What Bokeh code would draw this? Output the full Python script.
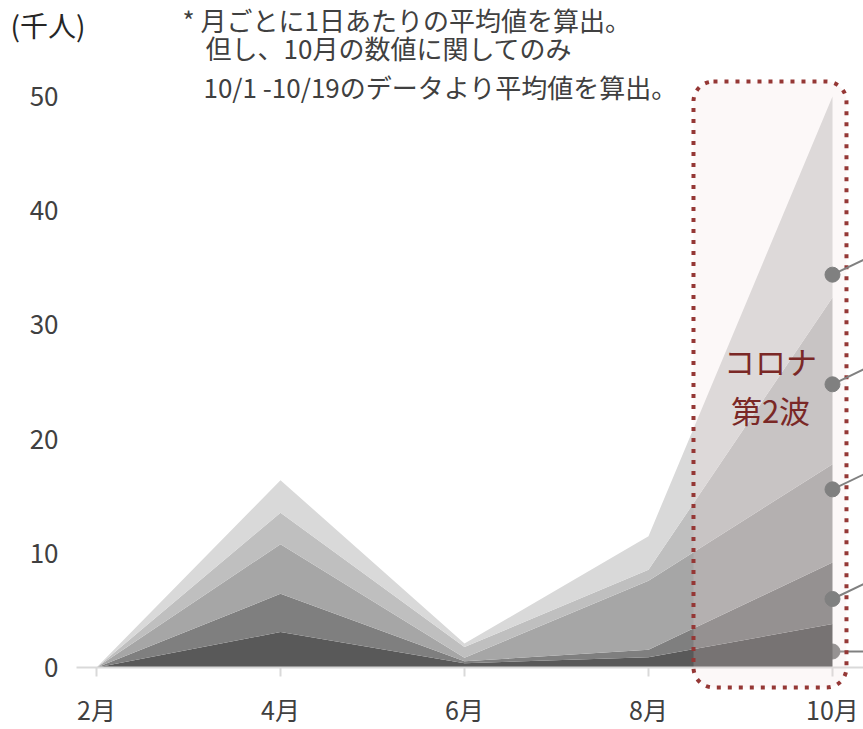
from bokeh.plotting import figure
from bokeh.models import ColumnDataSource, FixedTicker, BoxAnnotation, Label
from bokeh.embed import file_html
from bokeh.resources import INLINE

# ---- data ----
months = [2, 4, 6, 8, 10]
month_labels = ["2月", "4月", "6月", "8月", "10月"]
layer1 = [0, 3.1, 0.38, 0.9, 3.8]
layer2 = [0, 3.35, 0.17, 0.65, 5.4]
layer3 = [0, 4.35, 0.3, 6.05, 8.6]
layer4 = [0, 2.75, 0.95, 0.95, 14.6]
layer5 = [0, 2.85, 0.3, 2.95, 17.6]
y_ticks = [0, 10, 20, 30, 40, 50]
marker_month = 10
marker_y = [34.4, 24.8, 15.6, 6.0]
leader_end_y = [35.7, 26.1, 16.9, 7.3]
bottom_marker_y = 1.4

colors = ["#595959", "#7f7f7f", "#a6a6a6", "#bfbfbf", "#d9d9d9"]
FONT = "Noto Sans CJK JP"

X0, X1 = 0.9565, 10.337
Y0, Y1 = -5.43, 58.41
AXIS_X = 1.783   # where the value axis sits

p = figure(width=863, height=729, x_range=(X0, X1), y_range=(Y0, Y1),
           output_backend="svg", toolbar_location=None,
           min_border=0, min_border_left=0, min_border_right=0,
           min_border_top=0, min_border_bottom=0, outline_line_color=None,
           background_fill_color="white", border_fill_color="white")
p.grid.visible = False

src = ColumnDataSource(dict(month=months, l1=layer1, l2=layer2, l3=layer3,
                            l4=layer4, l5=layer5))

# bottom marker sits partly behind the areas
p.scatter(x=[marker_month], y=[bottom_marker_y], size=15, color="#808080")
p.segment(x0=[marker_month], y0=[bottom_marker_y], x1=[X1], y1=[bottom_marker_y],
          line_color="#808080", line_width=2)

p.varea_stack(["l1", "l2", "l3", "l4", "l5"], x="month", source=src, color=colors)

# highlight box
box = BoxAnnotation(left=8.489, right=10.152, top=51.31, bottom=-1.75,
                    fill_color="#f2dcdb", fill_alpha=0.2,
                    line_color="#953735", line_alpha=1.0, line_width=4,
                    line_dash="4 7", border_radius=20)
p.add_layout(box)

seg = p.segment(x0=[marker_month] * len(marker_y), y0=marker_y,
                x1=[X1] * len(marker_y), y1=leader_end_y,
                line_color="#808080", line_width=2)
seg.level = "overlay"
mk = p.scatter(x=[marker_month] * len(marker_y), y=marker_y, size=15, color="#808080")
mk.level = "overlay"

for txt, yy in [("コロナ", 26.9), ("第2波", 22.6)]:
    p.add_layout(Label(x=9.326, y=yy, text=txt, text_align="center",
                       text_baseline="middle", text_font=FONT,
                       text_font_size="31px", text_color="#7a2826", level="overlay"))

# notes
p.add_layout(Label(x=1.065, y=56.3, text="(千人)", text_align="left",
                   text_baseline="middle", text_font=FONT,
                   text_font_size="28px", text_color="#262626"))
notes = [("* 月ごとに1日あたりの平均値を算出。", 2.935, 56.74),
         ("但し、10月の数値に関してのみ", 3.185, 54.29),
         ("10/1 -10/19のデータより平均値を算出。", 3.163, 50.88)]
for txt, xx, yy in notes:
    p.add_layout(Label(x=xx, y=yy, text=txt, text_align="left",
                       text_baseline="middle", text_font=FONT,
                       text_font_size="26px", text_color="#404040"))

# axes (placed inside the frame)
xa = p.xaxis[0]
xa.fixed_location = 0
xa.bounds = (AXIS_X, X1)
xa.ticker = FixedTicker(ticks=months)
xa.major_label_overrides = {m: l for m, l in zip(months, month_labels)}
xa.axis_line_color = "#d9d9d9"
xa.axis_line_width = 2
xa.major_tick_line_color = "#d9d9d9"
xa.major_tick_line_width = 2
xa.major_tick_in = 0
xa.major_tick_out = 9
xa.minor_tick_line_color = None
xa.major_label_standoff = 15
xa.major_label_text_font = FONT
xa.major_label_text_font_size = "25px"
xa.major_label_text_color = "#404040"

ya = p.yaxis[0]
ya.fixed_location = AXIS_X
ya.ticker = FixedTicker(ticks=y_ticks)
ya.axis_line_color = None
ya.major_tick_line_color = None
ya.minor_tick_line_color = None
ya.major_label_standoff = 12
ya.major_label_text_font = FONT
ya.major_label_text_font_size = "26px"
ya.major_label_text_color = "#404040"

open("out.html", "w").write(file_html(p, INLINE))
